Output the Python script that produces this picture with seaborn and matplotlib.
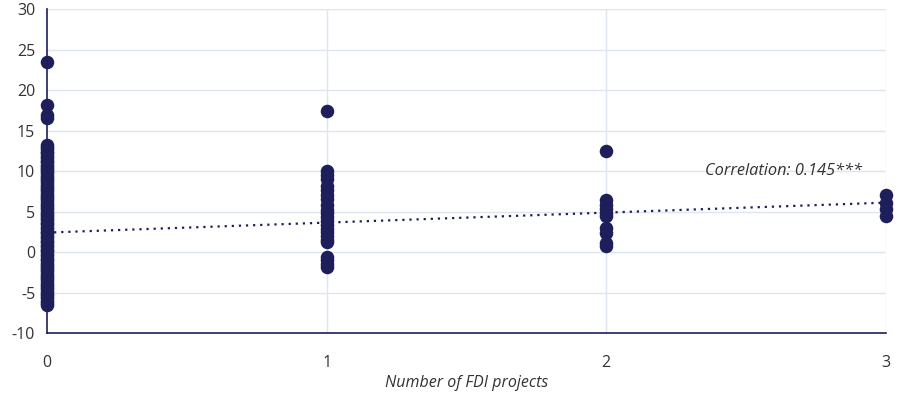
import numpy as np
import pandas as pd
import matplotlib
matplotlib.use("Agg")
import matplotlib.pyplot as plt
import seaborn as sns

# values, per number of FDI projects
vals_0 = [23.5, 18.2, 16.9, 16.6, 13.2, 13.0, 12.7, 12.4, 12.2, 11.9, 11.6, 11.3,
          11.1, 10.8, 10.5, 10.2, 10.0, 9.7, 9.4, 9.1, 8.9, 8.6, 8.3, 8.0, 7.8,
          7.5, 7.2, 6.9, 6.7, 6.4, 6.1, 5.8, 5.6, 5.3, 5.0, 4.7, 4.5, 4.2, 3.9,
          3.6, 3.4, 3.1, 2.8, 2.5, 2.3, 2.0, 1.7, 1.4, 1.2, 0.9, 0.6, 0.3, 0.1,
          -0.2, -0.5, -0.8, -1.0, -1.3, -1.6, -1.9, -2.1, -2.4, -2.7, -3.0,
          -3.2, -3.5, -3.8, -4.1, -4.3, -4.6, -4.9, -5.2, -5.4, -5.7, -6.0,
          -6.3, -6.6]
vals_1 = [17.4, 10.0, 9.5, 9.0, 8.2, 7.7, 7.0, 6.5, 5.8, 5.2, 4.8, 4.3, 3.8,
          3.3, 2.9, 2.5, 2.0, 1.5, 1.2, -0.6, -1.0, -1.5, -1.9]
vals_2 = [12.5, 6.4, 5.8, 5.3, 4.8, 4.4, 3.0, 2.3, 1.1, 0.7]
vals_3 = [7.0, 6.1, 5.3, 4.4]

trend_x = [0, 3]
trend_y = [2.4, 6.1]

corr_label = "Correlation: 0.145***"

groups = [vals_0, vals_1, vals_2, vals_3]
df = pd.DataFrame({
    "fdi": np.concatenate([[i] * len(g) for i, g in enumerate(groups)]),
    "value": np.concatenate(groups),
})

navy = "#1e1f5a"
grid = "#dfe4f1"
txt = "#333333"

sns.set_theme(style="white")
plt.rcParams["font.family"] = ["Open Sans", "DejaVu Sans"]
plt.rcParams["axes.unicode_minus"] = False

fig = plt.figure(figsize=(8.98, 3.94), dpi=100)
ax = fig.add_axes([0.0523, 0.1548, 0.9343, 0.8222])

ax.set_xlim(0, 3)
ax.set_ylim(-10, 30)
ax.set_yticks(range(-10, 31, 5))
ax.set_xticks([0, 1, 2, 3])

for y in range(-5, 31, 5):
    ax.axhline(y, color=grid, lw=1, zorder=0)
for x in [1, 2, 3]:
    ax.axvline(x, color=grid, lw=1, zorder=0)

ax.plot(trend_x, trend_y, color=navy, lw=1.6, linestyle=(0, (1, 2.2)), zorder=2)

sns.scatterplot(data=df, x="fdi", y="value", ax=ax, color=navy, s=95,
                edgecolor=navy, linewidth=0, zorder=3, clip_on=False)

ax.text(2.915, 10, corr_label, ha="right", va="center", fontsize=11.8,
        style="italic", color=txt)

for side in ["top", "right"]:
    ax.spines[side].set_visible(False)
for side in ["left", "bottom"]:
    ax.spines[side].set_color(navy)
    ax.spines[side].set_linewidth(1.2)

ax.tick_params(axis="both", length=5, width=1, color=navy, labelsize=11.5,
               labelcolor=txt, direction="out")
ax.tick_params(axis="x", pad=11)
ax.set_xlabel("Number of FDI projects", fontsize=11.5, style="italic",
              color=txt, labelpad=3)
ax.set_ylabel("")

fig.savefig("out.png", dpi=100)
